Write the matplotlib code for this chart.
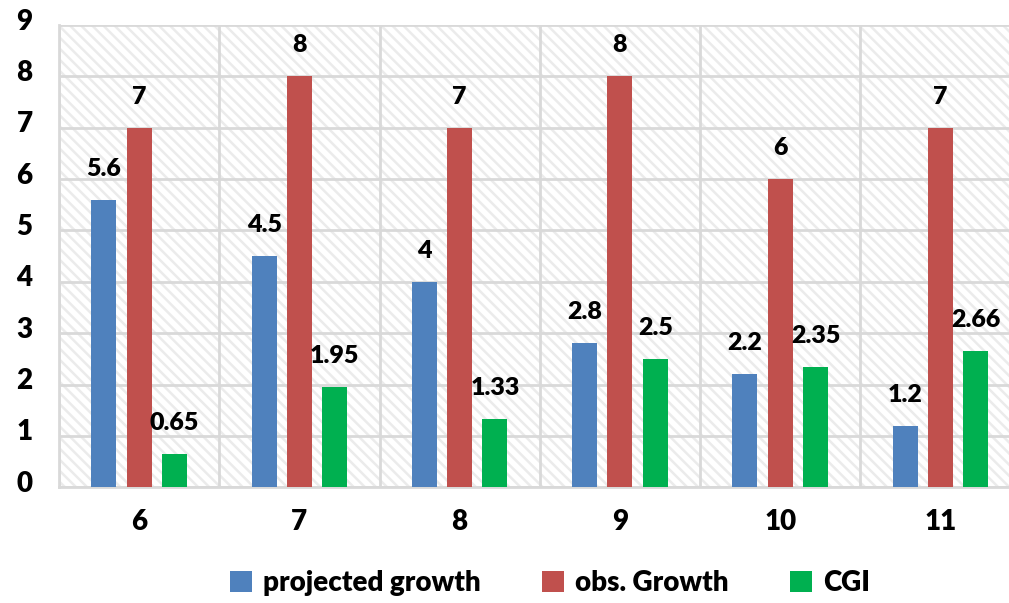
import matplotlib
matplotlib.use("Agg")
import matplotlib.pyplot as plt
import matplotlib.transforms as mtransforms
import numpy as np

categories = ["6", "7", "8", "9", "10", "11"]
projected_growth = [5.6, 4.5, 4, 2.8, 2.2, 1.2]
obs_growth = [7, 8, 7, 8, 6, 7]
cgi = [0.65, 1.95, 1.33, 2.5, 2.35, 2.66]
series_names = ["projected growth", "obs. Growth", "CGI"]
y_ticks = list(range(0, 10))

COLORS = ["#4f81bd", "#c0504d", "#00b050"]
GRID = "#d9d9d9"
WEIGHT = "heavy"

plt.rcParams["font.family"] = ["Lato", "DejaVu Sans"]
plt.rcParams["hatch.color"] = "#ebebeb"
plt.rcParams["hatch.linewidth"] = 1.8

fig = plt.figure(figsize=(10.09, 6.03), dpi=100)
ax = fig.add_axes([0.0585, 0.192, 0.953, 0.7665])

# hatched plot area background
ax.patch.set_facecolor("white")
ax.patch.set_hatch("\\\\\\")
ax.patch.set_edgecolor("#ebebeb")

x = np.arange(len(categories))
width = 0.156
offsets = [-0.22, 0.0, 0.22]
for values, off, color, name in zip([projected_growth, obs_growth, cgi], offsets, COLORS, series_names):
    bars = ax.bar(x + off, values, width, color=color, label=name, zorder=3)
    for bar, v in zip(bars, values):
        ax.annotate(f"{v:g}", (bar.get_x() + bar.get_width() / 2, v),
                    xytext=(0, 31), textcoords="offset pixels",
                    ha="center", va="center", fontsize=18, fontweight=WEIGHT, zorder=4)

ax.set_xlim(-0.5, len(categories) - 0.5)
ax.set_ylim(0, 9)
ax.set_yticks(y_ticks)
ax.set_xticks(x)
ax.set_xticklabels(categories)
ax.set_xticks(np.arange(len(categories) + 1) - 0.5, minor=True)
ax.tick_params(axis="both", which="both", length=0, labelsize=20)
ax.tick_params(axis="y", pad=19)
ax.tick_params(axis="x", pad=16)
for lbl in ax.get_xticklabels() + ax.get_yticklabels():
    lbl.set_fontweight(WEIGHT)
# value labels sit a little above their gridlines
lift = mtransforms.ScaledTranslation(0, 6 / 100, fig.dpi_scale_trans)
for lbl in ax.get_yticklabels():
    lbl.set_transform(lbl.get_transform() + lift)
ax.grid(axis="y", color=GRID, linewidth=2, zorder=1)
ax.grid(axis="x", which="minor", color=GRID, linewidth=2, zorder=1)
ax.set_axisbelow(True)
for side in ["top", "right"]:
    ax.spines[side].set_visible(False)
for side in ["left", "bottom"]:
    ax.spines[side].set_color(GRID)
    ax.spines[side].set_linewidth(2)

fig.legend(loc="center", bbox_to_anchor=(0.545, 0.033), ncol=3, frameon=False,
           prop={"size": 20, "weight": WEIGHT}, handlelength=0.8, handleheight=0.8,
           handletextpad=0.4, columnspacing=2.2)

fig.savefig("out.png", dpi=100)
